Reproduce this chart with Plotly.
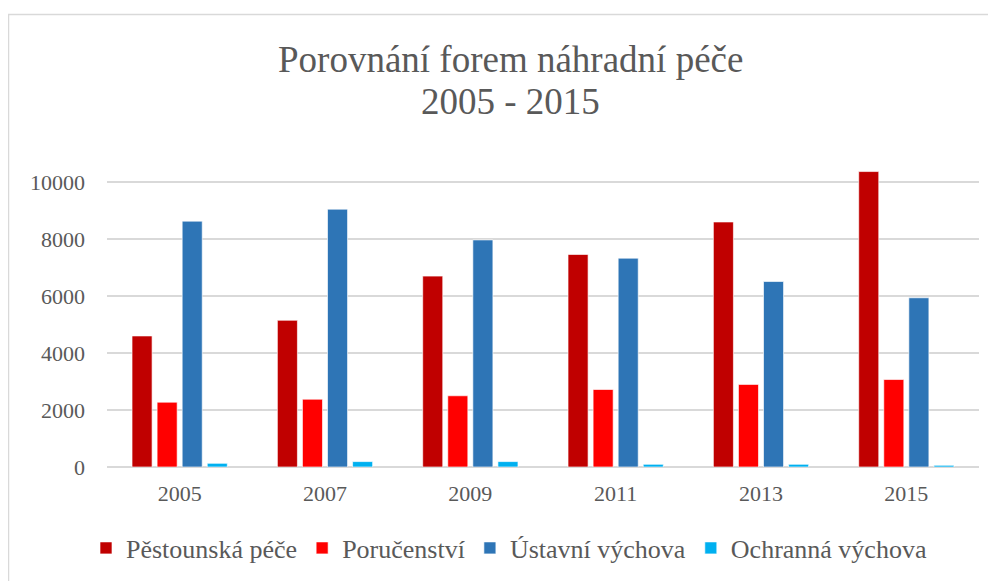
import plotly.graph_objects as go

years = ["2005", "2007", "2009", "2011", "2013", "2015"]
pestounska = [4600, 5150, 6700, 7460, 8600, 10370]
poruc = [2275, 2380, 2500, 2720, 2900, 3070]
ustavni = [8630, 9050, 7970, 7330, 6510, 5940]
ochranna = [130, 190, 190, 95, 95, 60]
ytick_vals = [0, 2000, 4000, 6000, 8000, 10000]
title_lines = ["Porovnání forem náhradní péče", "2005 - 2015"]

series = [
    ("Pěstounská péče", pestounska, "#C00000"),
    ("Poručenství", poruc, "#FF0000"),
    ("Ústavní výchova", ustavni, "#2E75B6"),
    ("Ochranná výchova", ochranna, "#00B0F0"),
]

# page has 8px body margin; figure sized to fit window
W, H = 988, 573
L, R, T, B = 99, 971, 157, 459

fig = go.Figure()
for name, vals, col in series:
    fig.add_trace(go.Bar(x=years, y=vals, name=name,
                         marker=dict(color=col, line=dict(color="rgba(255,255,255,0.8)", width=0.8))))

serif = "Liberation Serif"
title_y_px = [52, 93]
annotations = [
    dict(text=txt, xref="paper", yref="paper", x=(502 - L) / (R - L), xanchor="center",
         y=(B - ypx) / (B - T), yanchor="middle", showarrow=False,
         font=dict(family=serif, size=37, color="#595959"))
    for txt, ypx in zip(title_lines, title_y_px)
]

fig.update_layout(
    width=W, height=H,
    margin=dict(l=L, r=W - R, t=T, b=H - B, autoexpand=False),
    paper_bgcolor="white", plot_bgcolor="white",
    barmode="group", bargap=0.31, bargroupgap=0.2,
    font=dict(family=serif, color="#595959", size=22),
    annotations=annotations,
    xaxis=dict(showgrid=False, showline=False, ticks="", ticklabelstandoff=11,
               tickfont=dict(family=serif, size=22, color="#595959")),
    yaxis=dict(range=[0, 10600], tickvals=ytick_vals, tickformat="d",
               showgrid=True, gridcolor="#D9D9D9", gridwidth=1.5,
               zeroline=True, zerolinecolor="#D9D9D9", zerolinewidth=1.5,
               showline=False, ticks="", ticklen=0, ticklabelstandoff=21,
               tickfont=dict(family=serif, size=22, color="#595959")),
    legend=dict(orientation="h", x=(501 - L) / (R - L), xanchor="center",
                y=(B - 540) / (B - T), yanchor="middle",
                font=dict(family=serif, size=26, color="#595959"), itemwidth=30,
                traceorder="normal"),
    showlegend=True,
    shapes=[dict(type="rect", xref="paper", yref="paper",
                 x0=(0.5 - L) / (R - L), x1=1.1, y0=-0.6, y1=(B - 6.5) / (B - T),
                 line=dict(color="#D9D9D9", width=1.5), fillcolor="rgba(0,0,0,0)", layer="below")],
)

fig.write_html("out.html")
